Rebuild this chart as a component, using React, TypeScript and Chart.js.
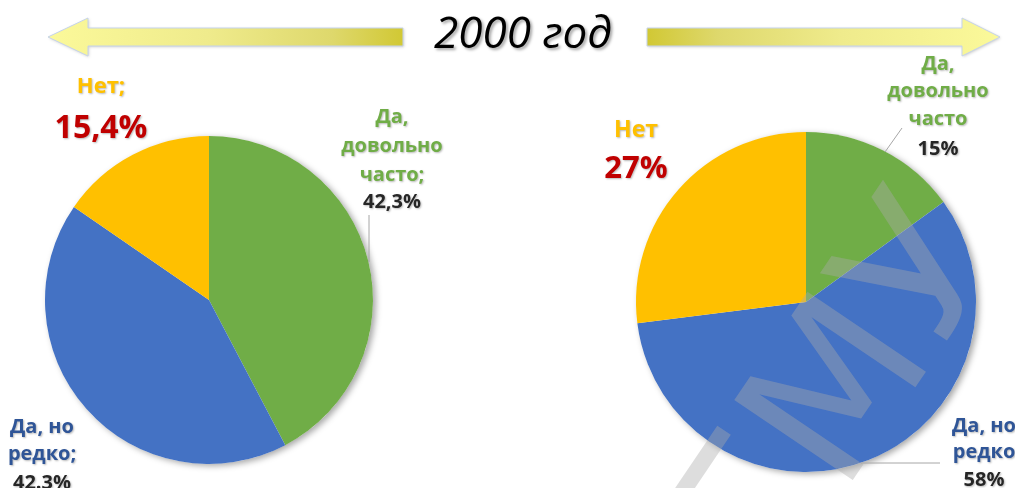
import React, { useEffect, useRef } from "react";
import { Chart, registerables } from "chart.js";

Chart.register(...registerables);

const W = 1015;
const H = 488;

// ---- data ----
const categories = ["Да, довольно часто", "Да, но редко", "Нет"];
const leftValues = [42.3, 42.3, 15.4];
const rightValues = [15, 58, 27];
const sliceColors = ["#70AD47", "#4472C4", "#FFC000"];
const titleText = "2000 год";

const leftGreenLabel = ["Да,", "довольно", "часто;"];
const leftGreenPct = "42,3%";
const leftBlueLabel = ["Да, но", "редко;"];
const leftBluePct = "42.3%";
const leftNoLabel = "Нет;";
const leftNoPct = "15,4%";

const rightGreenLabel = ["Да,", "довольно", "часто"];
const rightGreenPct = "15%";
const rightBlueLabel = ["Да, но", "редко"];
const rightBluePct = "58%";
const rightNoLabel = "Нет";
const rightNoPct = "27%";

const watermarkText = "ГМУ";

// ---- styles ----
const FONT = "'Open Sans', 'Noto Sans', sans-serif";
const GREEN_TXT = "#70AD47";
const BLUE_TXT = "#2F5597";
const GOLD_TXT = "#FFC000";
const RED_TXT = "#C00000";
const DARK_TXT = "#262626";

function txt(ctx: CanvasRenderingContext2D, s: string, x: number, y: number, color: string, size: number) {
  ctx.save();
  ctx.font = `bold ${size}px ${FONT}`;
  ctx.textAlign = "center";
  ctx.textBaseline = "alphabetic";
  ctx.shadowColor = "rgba(0,0,0,0.28)";
  ctx.shadowBlur = 2;
  ctx.shadowOffsetX = 1;
  ctx.shadowOffsetY = 1;
  ctx.fillStyle = color;
  ctx.fillText(s, x, y);
  ctx.restore();
}

function leader(ctx: CanvasRenderingContext2D, pts: number[][]) {
  ctx.save();
  ctx.strokeStyle = "#A6A6A6";
  ctx.lineWidth = 1;
  ctx.beginPath();
  ctx.moveTo(pts[0][0], pts[0][1]);
  for (let i = 1; i < pts.length; i++) ctx.lineTo(pts[i][0], pts[i][1]);
  ctx.stroke();
  ctx.restore();
}

function arrow(ctx: CanvasRenderingContext2D, tipX: number, headX: number, tailX: number) {
  const cy = 37;
  ctx.save();
  ctx.beginPath();
  ctx.moveTo(tipX, cy);
  ctx.lineTo(headX, cy - 19);
  ctx.lineTo(headX, cy - 9);
  ctx.lineTo(tailX, cy - 9);
  ctx.lineTo(tailX, cy + 9);
  ctx.lineTo(headX, cy + 9);
  ctx.lineTo(headX, cy + 19);
  ctx.closePath();
  const g = ctx.createLinearGradient(tipX, 0, tailX, 0);
  g.addColorStop(0, "#FBF99A");
  g.addColorStop(0.45, "#EFEB8C");
  g.addColorStop(0.8, "#DED86C");
  g.addColorStop(1, "#D1C834");
  ctx.shadowColor = "rgba(0,0,0,0.2)";
  ctx.shadowBlur = 3;
  ctx.shadowOffsetX = 1;
  ctx.shadowOffsetY = 1;
  ctx.fillStyle = g;
  ctx.fill();
  ctx.shadowColor = "transparent";
  ctx.strokeStyle = "#C5D3EA";
  ctx.lineWidth = 1;
  ctx.stroke();
  ctx.restore();
}

function pieShadow(chart: any) {
  const arc: any = chart.getDatasetMeta(0).data[0];
  if (!arc) return;
  const ctx = chart.ctx as CanvasRenderingContext2D;
  ctx.save();
  ctx.shadowColor = "rgba(0,0,0,0.35)";
  ctx.shadowBlur = 6;
  ctx.shadowOffsetX = 3;
  ctx.shadowOffsetY = 2;
  ctx.fillStyle = "#ffffff";
  ctx.beginPath();
  ctx.arc(arc.x, arc.y, arc.outerRadius, 0, Math.PI * 2);
  ctx.fill();
  ctx.restore();
}

const leftPlugin = {
  id: "leftDeco",
  beforeDatasetsDraw(chart: any) {
    pieShadow(chart);
  },
  afterDraw(chart: any) {
    const ctx = chart.ctx as CanvasRenderingContext2D;
    const arc: any = chart.getDatasetMeta(0).data[0];
    const cx = arc.x;
    const cy = arc.y;
    // arrows + title
    arrow(ctx, 48, 88, 403);
    arrow(ctx, 1000, 962, 647);
    ctx.save();
    ctx.font = `italic 44px ${FONT}`;
    ctx.textAlign = "center";
    ctx.textBaseline = "alphabetic";
    ctx.shadowColor = "rgba(0,0,0,0.35)";
    ctx.shadowBlur = 3;
    ctx.shadowOffsetX = 2;
    ctx.shadowOffsetY = 2;
    ctx.fillStyle = "#000000";
    ctx.fillText(titleText, 523, 48);
    ctx.restore();

    // "Нет"
    txt(ctx, leftNoLabel, cx - 108, cy - 207, GOLD_TXT, 22);
    txt(ctx, leftNoPct, cx - 108, cy - 162, RED_TXT, 32);
    // green
    const gx = cx + 183;
    txt(ctx, leftGreenLabel[0], gx, cy - 177, GREEN_TXT, 20);
    txt(ctx, leftGreenLabel[1], gx, cy - 148, GREEN_TXT, 20);
    txt(ctx, leftGreenLabel[2], gx, cy - 119, GREEN_TXT, 20);
    txt(ctx, leftGreenPct, gx, cy - 92, DARK_TXT, 20);
    leader(ctx, [[cx + 160, cy - 85], [cx + 160, cy - 38]]);
    // blue
    const bx = cx - 167;
    txt(ctx, leftBlueLabel[0], bx, cy + 133, BLUE_TXT, 20);
    txt(ctx, leftBlueLabel[1], bx, cy + 160, BLUE_TXT, 20);
    txt(ctx, leftBluePct, bx, cy + 189, DARK_TXT, 20);
  },
};

const rightPlugin = {
  id: "rightDeco",
  beforeDatasetsDraw(chart: any) {
    pieShadow(chart);
  },
  afterDatasetsDraw(chart: any) {
    const ctx = chart.ctx as CanvasRenderingContext2D;
    // watermark
    ctx.save();
    const size = 196;
    ctx.font = `${size}px 'DejaVu Sans', sans-serif`;
    ctx.translate(830, 386);
    ctx.rotate((-56 * Math.PI) / 180);
    const wG = ctx.measureText(watermarkText[0]).width;
    const wM = ctx.measureText(watermarkText[1]).width;
    ctx.textAlign = "left";
    ctx.textBaseline = "alphabetic";
    ctx.fillStyle = "rgba(170,170,170,0.4)";
    ctx.fillText(watermarkText, -(wG + wM / 2), size * 0.365);
    ctx.restore();
  },
  afterDraw(chart: any) {
    const ctx = chart.ctx as CanvasRenderingContext2D;
    const arc: any = chart.getDatasetMeta(0).data[0];
    const cx = arc.x;
    const cy = arc.y;
    txt(ctx, rightNoLabel, cx - 170, cy - 165, GOLD_TXT, 23);
    txt(ctx, rightNoPct, cx - 170, cy - 124, RED_TXT, 31);
    const gx = cx + 132;
    txt(ctx, rightGreenLabel[0], gx, cy - 232, GREEN_TXT, 20);
    txt(ctx, rightGreenLabel[1], gx, cy - 205, GREEN_TXT, 20);
    txt(ctx, rightGreenLabel[2], gx, cy - 177, GREEN_TXT, 20);
    txt(ctx, rightGreenPct, gx, cy - 147, DARK_TXT, 20);
    leader(ctx, [[cx + 96, cy - 174], [cx + 79, cy - 150]]);
    const bx = cx + 178;
    txt(ctx, rightBlueLabel[0], bx, cy + 130, BLUE_TXT, 20);
    txt(ctx, rightBlueLabel[1], bx, cy + 156, BLUE_TXT, 20);
    txt(ctx, rightBluePct, bx, cy + 184, DARK_TXT, 20);
    leader(ctx, [[cx + 55, cy + 161], [cx + 134, cy + 161]]);
  },
};

function makeConfig(values: number[], padding: any, plugin: any): any {
  return {
    type: "pie",
    data: {
      labels: categories,
      datasets: [
        {
          data: values,
          backgroundColor: sliceColors,
          borderWidth: 0,
          hoverOffset: 0,
        },
      ],
    },
    options: {
      responsive: false,
      maintainAspectRatio: false,
      animation: false,
      events: [],
      layout: { padding },
      plugins: {
        legend: { display: false },
        tooltip: { enabled: false },
        title: { display: false },
      },
    },
    plugins: [plugin],
  };
}

export default function App() {
  const leftRef = useRef<HTMLCanvasElement | null>(null);
  const rightRef = useRef<HTMLCanvasElement | null>(null);

  useEffect(() => {
    const c1 = new Chart(
      leftRef.current as HTMLCanvasElement,
      makeConfig(leftValues, { left: 45, right: W - 373, top: 136, bottom: H - 464 }, leftPlugin)
    );
    const c2 = new Chart(
      rightRef.current as HTMLCanvasElement,
      makeConfig(rightValues, { left: 636, right: W - 976, top: 132, bottom: H - 472 }, rightPlugin)
    );
    return () => {
      c1.destroy();
      c2.destroy();
    };
  }, []);

  const canvasStyle: React.CSSProperties = {
    position: "absolute",
    left: 0,
    top: 0,
    width: W,
    height: H,
  };

  return (
    <div
      style={{
        position: "fixed",
        left: 0,
        top: 0,
        width: W,
        height: H,
        background: "#ffffff",
        overflow: "hidden",
      }}
    >
      <canvas ref={leftRef} width={W} height={H} style={canvasStyle} />
      <canvas ref={rightRef} width={W} height={H} style={canvasStyle} />
    </div>
  );
}
